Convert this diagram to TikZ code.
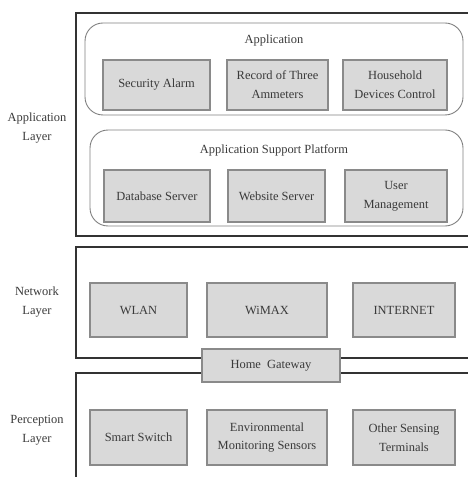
\documentclass[tikz,border=0pt]{standalone}
\usepackage{fontspec}
\setmainfont{Liberation Serif}
\definecolor{boxfill}{HTML}{D9D9D9}
\definecolor{boxedge}{HTML}{8A8A8A}
\definecolor{txt}{HTML}{3A3A3A}
\begin{document}
\begin{tikzpicture}[x=1bp,y=-1bp,
  every node/.style={font=\fontsize{12.5}{19}\selectfont, text=txt, align=center, inner sep=0pt},
  gbox/.style={draw=boxedge, line width=1.2pt, fill=boxfill},
  layer/.style={draw=black!80, line width=1.4pt},
  group/.style={draw=black!50, line width=0.9pt, rounded corners=18bp}]
\useasboundingbox (0,0) rectangle (468,477);
% layer frames
\draw[layer] (468,13) -- (76,13) -- (76,236) -- (468,236);
\draw[layer] (468,247) -- (76,247) -- (76,358) -- (202,358);
\draw[layer] (340,358) -- (468,358);
\draw[layer] (202,373) -- (76,373) -- (76,477);
\draw[layer] (340,373) -- (468,373);
% groups
\draw[group] (85,23) rectangle (463,115);
\node (apptitle) at (274,41) {Application};
\draw[group] (90,130) rectangle (463,226);
\node (suptitle) at (274,150) {Application Support Platform};
% application boxes
\draw[gbox] (103,60) rectangle (210,110); \node (sa) at (156.5,85) {Security Alarm};
\draw[gbox] (227,60) rectangle (328,110); \node (rt) at (277.5,85) {Record of Three\\Ammeters};
\draw[gbox] (343,60) rectangle (447,110); \node (hd) at (395,85) {Household\\Devices Control};
\draw[gbox] (104,170) rectangle (210,222); \node (db) at (157,196) {Database Server};
\draw[gbox] (228,170) rectangle (325,222); \node (ws) at (276.5,196) {Website Server};
\draw[gbox] (345,170) rectangle (447,222); \node (um) at (396,196) {User\\Management};
% network
\draw[gbox] (90,283) rectangle (187,337); \node (wlan) at (138.5,310) {WLAN};
\draw[gbox] (207,283) rectangle (327,337); \node (wimax) at (267,310) {WiMAX};
\draw[gbox] (353,283) rectangle (455,337); \node (inet) at (404,310) {INTERNET};
\draw[gbox] (202,349) rectangle (340,382); \node (hg) at (271,365.5) {Home\ \ Gateway};
% perception
\draw[gbox] (90,410) rectangle (187,465); \node (ss) at (138.5,437.5) {Smart Switch};
\draw[gbox] (207,410) rectangle (327,465); \node (ems) at (267,437.5) {Environmental\\Monitoring Sensors};
\draw[gbox] (353,410) rectangle (455,465); \node (ost) at (404,437.5) {Other Sensing\\Terminals};
% layer labels
\node (lapp) at (37,128) {Application\\Layer};
\node (lnet) at (37,302) {Network\\Layer};
\node (lper) at (37,430) {Perception\\Layer};
\end{tikzpicture}
\end{document}
